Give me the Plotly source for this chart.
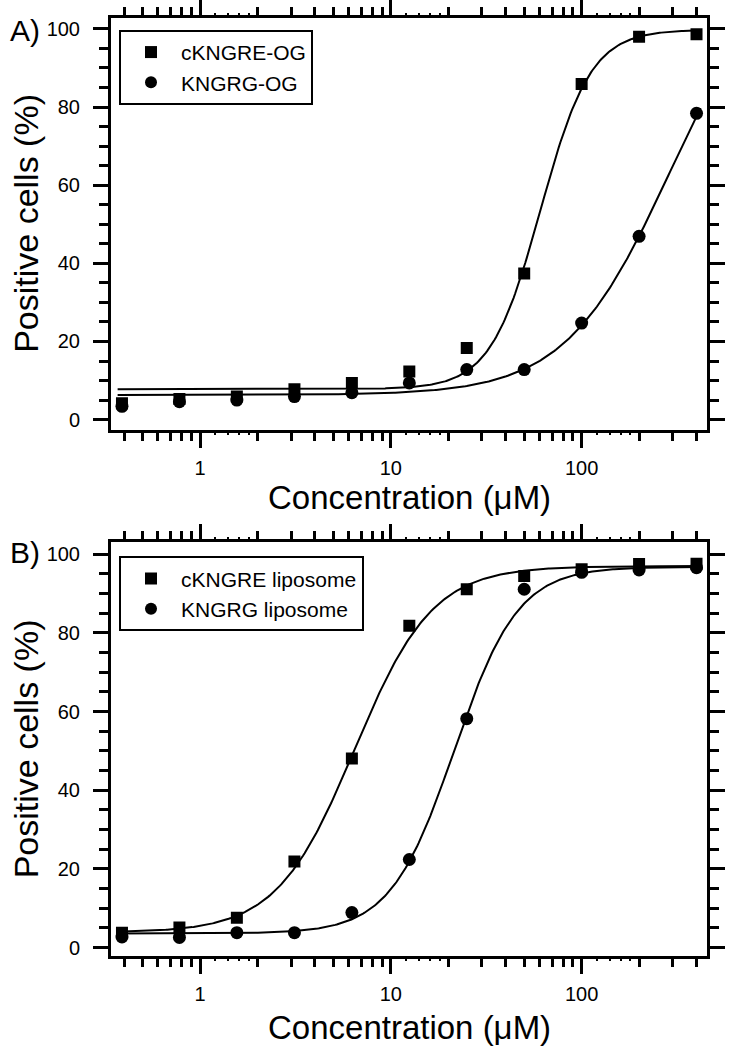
import numpy as np
import plotly.graph_objects as go

# ---------------- data ----------------
conc = [0.39, 0.78, 1.56, 3.125, 6.25, 12.5, 25, 50, 100, 200, 400]
a_ckngre_og = [4.2, 5.3, 5.9, 7.8, 9.4, 12.3, 18.3, 37.4, 85.9, 98.0, 98.6]
a_kngrg_og = [3.4, 4.6, 5.0, 5.9, 6.9, 9.4, 12.8, 12.8, 24.7, 46.9, 78.4]
b_ckngre_lip = [3.8, 5.1, 7.6, 21.9, 48.1, 81.8, 91.1, 94.5, 96.2, 97.5, 97.6]
b_kngrg_lip = [2.7, 2.6, 3.8, 3.8, 8.9, 22.4, 58.2, 91.1, 95.4, 96.0, 96.6]

# Hill fit parameters (bottom, top, EC50, n) of the drawn fit curves
fit_a_ckngre = (7.8, 99.8, 61.0, 3.3)
fit_a_kngrg = (6.3, 121.3, 293.0, 1.58)
fit_b_ckngre = (3.8, 97.0, 6.46, 2.13)
fit_b_kngrg = (3.6, 96.8, 21.5, 2.6)

names_a = ["cKNGRE-OG", "KNGRG-OG"]
names_b = ["cKNGRE liposome", "KNGRG liposome"]

x_major = [1, 10, 100]
x_major_text = ["1", "10", "100"]
x_minor = [0.4, 0.5, 0.6, 0.7, 0.8, 0.9, 2, 3, 4, 5, 6, 7, 8, 9,
           20, 30, 40, 50, 60, 70, 80, 90, 200, 300, 400]
x_subminor = [1.2, 1.4, 1.6, 1.8, 12, 14, 16, 18, 120, 140, 160, 180]
y_major = [0, 20, 40, 60, 80, 100]

# ---------------- layout geometry ----------------
W, H = 733, 1050
FONT = "Liberation Sans, Arial, Helvetica, sans-serif"
xl, xr = 111, 707
a_top, a_bot = 17, 430
b_top, b_bot = 543, 958
x_range = [-0.4665, 2.657]
ya_range = [-2.6, 102.8]
yb_range = [-2.2, 103.0]


def hill(x, p):
    b, t, ec, n = p
    x = np.asarray(x, dtype=float)
    return b + (t - b) / (1.0 + (ec / x) ** n)


xfit = np.logspace(np.log10(0.37), np.log10(420), 400)

fig = go.Figure()


def add_panel(xa, ya, leg, ys, fits, names):
    for yv, fp, nm, sym, sz in zip(ys, fits, names, ["square", "circle"], [12, 13]):
        fig.add_trace(go.Scatter(x=xfit, y=hill(xfit, fp), mode="lines",
                                 line=dict(color="black", width=2),
                                 showlegend=False, hoverinfo="skip",
                                 xaxis=xa, yaxis=ya))
        fig.add_trace(go.Scatter(x=conc, y=yv, mode="markers", name=nm,
                                 marker=dict(symbol=sym, size=sz, color="black"),
                                 legend=leg, xaxis=xa, yaxis=ya))


add_panel("x", "y", "legend", [a_ckngre_og, a_kngrg_og], [fit_a_ckngre, fit_a_kngrg], names_a)
add_panel("x2", "y2", "legend2", [b_ckngre_lip, b_kngrg_lip], [fit_b_ckngre, fit_b_kngrg], names_b)

# dummy traces so the overlay (sub-minor tick) axes are drawn
fig.add_trace(go.Scatter(x=[1], y=[50], mode="markers", marker=dict(opacity=0),
                         showlegend=False, hoverinfo="skip", xaxis="x3", yaxis="y"))
fig.add_trace(go.Scatter(x=[1], y=[50], mode="markers", marker=dict(opacity=0),
                         showlegend=False, hoverinfo="skip", xaxis="x4", yaxis="y2"))

dom_x = [xl / W, xr / W]
dom_a = [1 - a_bot / H, 1 - a_top / H]
dom_b = [1 - b_bot / H, 1 - b_top / H]


def xaxis(anchor):
    return dict(type="log", range=x_range, domain=dom_x, anchor=anchor,
                tickmode="array", tickvals=x_major, ticktext=x_major_text,
                ticks="outside", ticklen=15, tickwidth=3, tickcolor="black",
                showline=True, linewidth=3, linecolor="black", mirror="ticks",
                showgrid=False, zeroline=False,
                tickfont=dict(family=FONT, size=20, color="black"),
                ticklabelstandoff=3,
                minor=dict(tickmode="array", tickvals=x_minor, ticks="outside",
                           ticklen=8, tickwidth=2.5, tickcolor="black", showgrid=False))


def xsub(over, anchor):
    return dict(type="log", range=x_range, overlaying=over, anchor=anchor,
                tickmode="array", tickvals=x_subminor, ticks="outside",
                ticklen=4, tickwidth=2, tickcolor="black", showticklabels=False,
                showline=False, mirror="ticks", showgrid=False, zeroline=False)


def yaxis(anchor, dom, rng):
    return dict(range=rng, domain=dom, anchor=anchor,
                tickmode="array", tickvals=y_major,
                ticks="outside", ticklen=15, tickwidth=3, tickcolor="black",
                showline=True, linewidth=3, linecolor="black", mirror="ticks",
                showgrid=False, zeroline=False,
                tickfont=dict(family=FONT, size=20, color="black"),
                ticklabelstandoff=9,
                minor=dict(dtick=5, tick0=0, ticks="outside", ticklen=9,
                           tickwidth=2.5, tickcolor="black", showgrid=False))


def legend(ytop):
    return dict(x=119 / W, y=1 - ytop / H, xanchor="left", yanchor="top",
                bordercolor="black", borderwidth=2, bgcolor="white",
                font=dict(family=FONT, size=21, color="black"),
                tracegroupgap=0, itemsizing="constant", itemwidth=50)


ann = []
ytitle = "Positive cells (%)"
xtitle = "Concentration (\u03bcM)"
for yc in [(a_top + a_bot) / 2, (b_top + b_bot) / 2]:
    ann.append(dict(text=ytitle, x=26 / W, y=1 - yc / H, xref="paper", yref="paper",
                    xanchor="center", yanchor="middle", textangle=-90, showarrow=False,
                    font=dict(family=FONT, size=34, color="black")))
for yc in [498, 1029]:
    ann.append(dict(text=xtitle, x=(xl + xr) / 2 / W, y=1 - yc / H, xref="paper", yref="paper",
                    xanchor="center", yanchor="middle", showarrow=False,
                    font=dict(family=FONT, size=33, color="black")))
for lab, yc in [("A)", 30), ("B)", 553)]:
    ann.append(dict(text=lab, x=25 / W, y=1 - yc / H, xref="paper", yref="paper",
                    xanchor="center", yanchor="middle", showarrow=False,
                    font=dict(family=FONT, size=30, color="black")))

fig.update_layout(
    width=W, height=H, margin=dict(l=0, r=0, t=0, b=0),
    paper_bgcolor="white", plot_bgcolor="white",
    font=dict(family=FONT, color="black"),
    xaxis=xaxis("y"), yaxis=yaxis("x", dom_a, ya_range),
    xaxis2=xaxis("y2"), yaxis2=yaxis("x2", dom_b, yb_range),
    xaxis3=xsub("x", "y"), xaxis4=xsub("x2", "y2"),
    legend=legend(29), legend2=legend(557),
    annotations=ann,
)

fig.write_html("out.html", config={"displayModeBar": False},
               post_script="document.body.style.margin='0';")
